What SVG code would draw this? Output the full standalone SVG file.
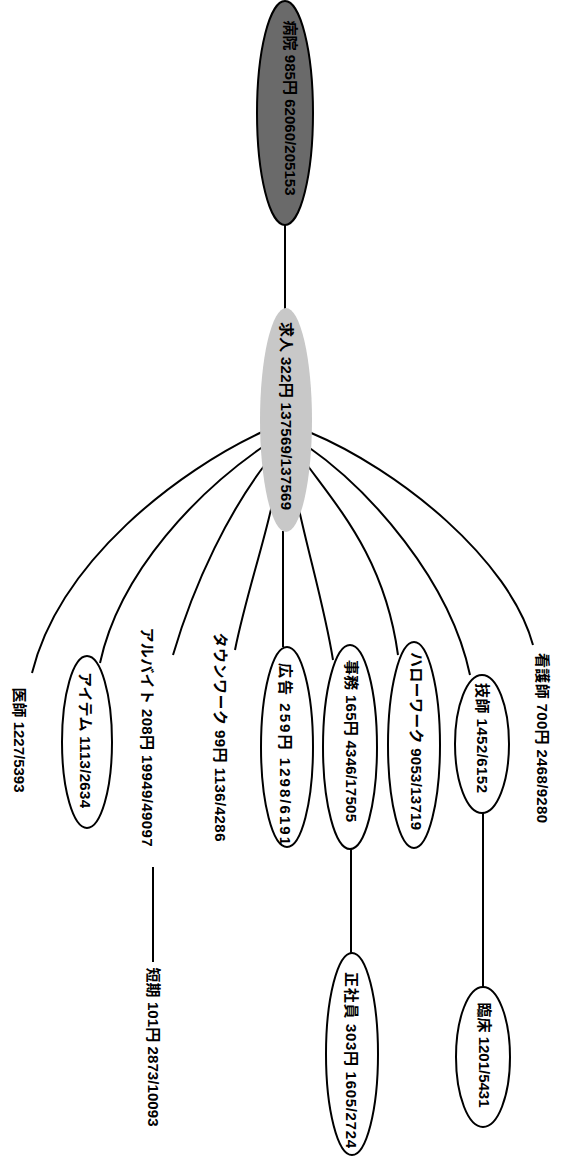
<svg xmlns="http://www.w3.org/2000/svg" width="570" height="1159" viewBox="0 0 570 1159">
<style>
.bg{fill:#ffffff}
.n{fill:#ffffff;stroke:#000;stroke-width:2}
.e{fill:none;stroke:#000;stroke-width:2}
text{font-family:"Liberation Sans","Noto Sans CJK JP",sans-serif;font-size:15px;fill:#000;text-anchor:middle;dominant-baseline:central;font-weight:bold}
</style>
<rect class="bg" x="0" y="0" width="570" height="1159"/>
<g id="connectors">
<line class="e" x1="285" y1="224" x2="285" y2="309"/>
<line class="e" x1="283" y1="531" x2="283" y2="647"/>
<line class="e" x1="351" y1="849" x2="351" y2="953"/>
<line class="e" x1="483" y1="813" x2="483" y2="987"/>
<line class="e" x1="153" y1="867" x2="153" y2="962"/>
<path class="e" d="M262 432 C180 470 60 560 32 673"/>
<path class="e" d="M264 446 C200 490 120 570 100 663"/>
<path class="e" d="M267 462 C230 510 195 580 173 655"/>
<path class="e" d="M272 505 C262 550 245 600 235 650"/>
<path class="e" d="M298 505 C310 560 325 610 333 660"/>
<path class="e" d="M305 462 C340 510 385 560 398 655"/>
<path class="e" d="M307 446 C370 490 450 580 470 675"/>
<path class="e" d="M309 432 C400 470 510 560 533 645"/>
</g>
<g id="node-byoin">
<ellipse cx="285" cy="113" rx="28" ry="112" fill="#6a6a6a" stroke="#000" stroke-width="2"/>
<text transform="translate(290 108) rotate(90)" textLength="175" lengthAdjust="spacing">病院 985円 62060/205153</text>
</g>
<g id="node-kyujin">
<ellipse cx="286" cy="420" rx="26" ry="112" fill="#c8c8c8" stroke="none"/>
<text transform="translate(286 416) rotate(90)" textLength="188" lengthAdjust="spacing">求人 322円 137569/137569</text>
</g>
<g id="node-kangoshi">
<text transform="translate(542 738) rotate(90)" textLength="170" lengthAdjust="spacing">看護師 700円 2468/9280</text>
</g>
<g id="node-gishi">
<ellipse class="n" cx="482" cy="744" rx="27" ry="69"/>
<text transform="translate(482 738) rotate(90)" textLength="110" lengthAdjust="spacing">技師 1452/6152</text>
</g>
<g id="node-rinsho">
<ellipse class="n" cx="483" cy="1057" rx="27" ry="70"/>
<text transform="translate(484 1055) rotate(90)" textLength="105" lengthAdjust="spacing">臨床 1201/5431</text>
</g>
<g id="node-hellowork">
<ellipse class="n" cx="414" cy="745" rx="26" ry="103"/>
<text transform="translate(416 741) rotate(90)" textLength="178" lengthAdjust="spacing">ハローワーク 9053/13719</text>
</g>
<g id="node-jimu">
<ellipse class="n" cx="350" cy="747" rx="27" ry="102"/>
<text transform="translate(351 741) rotate(90)" textLength="162" lengthAdjust="spacing">事務 165円 4346/17505</text>
</g>
<g id="node-seishain">
<ellipse class="n" cx="352" cy="1054" rx="26" ry="101"/>
<text transform="translate(351 1060) rotate(90)" textLength="176" lengthAdjust="spacing">正社員 303円 1605/2724</text>
</g>
<g id="node-kokoku">
<ellipse class="n" cx="287" cy="747" rx="26" ry="100"/>
<text transform="translate(285 754) rotate(90)" textLength="182" lengthAdjust="spacing">広告 259円 1298/6191</text>
</g>
<g id="node-townwork">
<text transform="translate(220 737) rotate(90)" textLength="209" lengthAdjust="spacing">タウンワーク 99円 1136/4286</text>
</g>
<g id="node-arubaito">
<text transform="translate(147 737) rotate(90)" textLength="219" lengthAdjust="spacing">アルバイト 208円 19949/49097</text>
</g>
<g id="node-tanki">
<text transform="translate(153 1047) rotate(90)" textLength="159" lengthAdjust="spacing">短期 101円 2873/10093</text>
</g>
<g id="node-item">
<ellipse class="n" cx="87" cy="742" rx="25" ry="86"/>
<text transform="translate(85 740) rotate(90)" textLength="136" lengthAdjust="spacing">アイテム 1113/2634</text>
</g>
<g id="node-ishi">
<text transform="translate(19 740) rotate(90)" textLength="105" lengthAdjust="spacing">医師 1227/5393</text>
</g>
</svg>
